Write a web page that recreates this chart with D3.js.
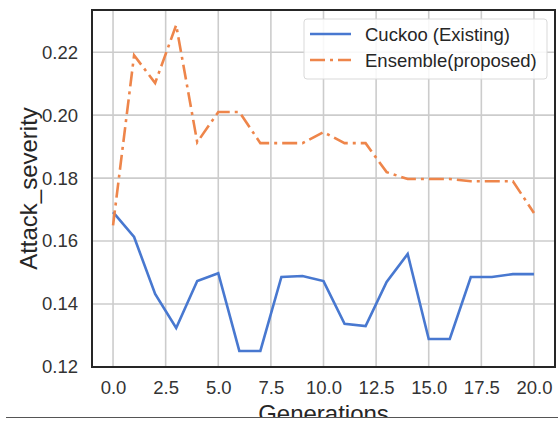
<!DOCTYPE html>
<html>
<head>
    <script src="https://d3js.org/d3.v7.min.js"></script>
    <style>
        body { margin: 0; background: #fff; }
        text { font-family: 'Liberation Sans', Arial, sans-serif; }
    </style>
</head>
<body>
    <svg id="chart" width="560" height="423"></svg>
    <script>
        // values
        var generations = d3.range(0, 21);
        var cuckoo = [0.1692, 0.1613, 0.1432, 0.1324, 0.1473, 0.1498, 0.1251, 0.1251, 0.1486, 0.1489,
            0.1473, 0.1337, 0.1330, 0.1470, 0.1559, 0.1289, 0.1289, 0.1486, 0.1486, 0.1495, 0.1495];
        var ensemble = [0.1650, 0.2190, 0.2102, 0.2286, 0.1914, 0.2010, 0.2010, 0.1911, 0.1911, 0.1911,
            0.1946, 0.1911, 0.1911, 0.1819, 0.1797, 0.1797, 0.1797, 0.1790, 0.1790, 0.1790, 0.1689];
        var xTicks = [0, 2.5, 5, 7.5, 10, 12.5, 15, 17.5, 20];
        var yTicks = [0.12, 0.14, 0.16, 0.18, 0.20, 0.22];
        var seriesNames = ["Cuckoo (Existing)", "Ensemble(proposed)"];

        var svg = d3.select("#chart");
        var plotLeft = 92, plotRight = 555, plotTop = 10, plotBottom = 367;

        var x = d3.scaleLinear().domain([-1, 21]).range([plotLeft, plotRight]);
        var y = d3.scaleLinear().domain([0.12, 0.2334]).range([plotBottom, plotTop]);

        // grid
        svg.append("g")
            .selectAll("line")
            .data(xTicks)
            .enter().append("line")
            .attr("x1", d => x(d)).attr("x2", d => x(d))
            .attr("y1", plotTop).attr("y2", plotBottom)
            .style("stroke", "#cccccc").style("stroke-width", 1.6);
        svg.append("g")
            .selectAll("line")
            .data(yTicks)
            .enter().append("line")
            .attr("x1", plotLeft).attr("x2", plotRight)
            .attr("y1", d => y(d)).attr("y2", d => y(d))
            .style("stroke", "#cccccc").style("stroke-width", 1.6);

        // axes (labels only, no tick marks)
        var xAxis = d3.axisBottom(x).tickValues(xTicks).tickSize(0).tickPadding(14)
            .tickFormat(d3.format(".1f"));
        var yAxis = d3.axisLeft(y).tickValues(yTicks).tickSize(0).tickPadding(14)
            .tickFormat(d3.format(".2f"));

        var gx = svg.append("g").attr("transform", "translate(0," + plotBottom + ")").call(xAxis);
        var gy = svg.append("g").attr("transform", "translate(" + plotLeft + ",0)").call(yAxis);
        gx.select(".domain").remove();
        gy.select(".domain").remove();
        svg.selectAll(".tick text")
            .style("font-size", "18.5px")
            .style("fill", "#333333");

        // lines
        var line = function (vals) {
            return d3.line()
                .x((d, i) => x(generations[i]))
                .y(d => y(d))(vals);
        };

        svg.append("path")
            .attr("d", line(cuckoo))
            .style("fill", "none")
            .style("stroke", "#4878d0")
            .style("stroke-width", 2.6);

        svg.append("path")
            .attr("d", line(ensemble))
            .style("fill", "none")
            .style("stroke", "#ee854a")
            .style("stroke-width", 2.6)
            .style("stroke-dasharray", "15,5,3,5");

        // frame
        svg.append("rect")
            .attr("x", plotLeft).attr("y", plotTop)
            .attr("width", plotRight - plotLeft).attr("height", plotBottom - plotTop)
            .style("fill", "none")
            .style("stroke", "#262626")
            .style("stroke-width", 2);

        // legend
        var legend = svg.append("g");
        legend.append("rect")
            .attr("x", 304).attr("y", 19)
            .attr("width", 243).attr("height", 60)
            .attr("rx", 3)
            .style("fill", "#ffffff").style("fill-opacity", 0.85)
            .style("stroke", "#d9d9d9").style("stroke-width", 1);
        var colors = ["#4878d0", "#ee854a"];
        var dashes = [null, "15,5,3,5"];
        seriesNames.forEach(function (name, i) {
            var ly = 34 + i * 26;
            legend.append("line")
                .attr("x1", 310).attr("x2", 351)
                .attr("y1", ly).attr("y2", ly)
                .style("stroke", colors[i])
                .style("stroke-width", 2.6)
                .style("stroke-dasharray", dashes[i]);
            legend.append("text")
                .attr("x", 365).attr("y", ly + 7)
                .style("font-size", "18.5px")
                .style("fill", "#262626")
                .text(name);
        });

        // axis titles
        svg.append("text")
            .attr("transform", "rotate(-90)")
            .attr("x", -(plotTop + plotBottom) / 2)
            .attr("y", 37)
            .attr("text-anchor", "middle")
            .style("font-size", "24px")
            .style("fill", "#262626")
            .text("Attack_severity");

        svg.append("text")
            .attr("x", (plotLeft + plotRight) / 2)
            .attr("y", 422)
            .attr("text-anchor", "middle")
            .style("font-size", "24px")
            .style("fill", "#262626")
            .text("Generations");

        // the source picture is cut off just under the x title
        svg.append("rect")
            .attr("x", 0).attr("y", 418)
            .attr("width", 560).attr("height", 5)
            .style("fill", "#ffffff");
        svg.append("line")
            .attr("x1", 6).attr("x2", 558)
            .attr("y1", 417.5).attr("y2", 417.5)
            .style("stroke", "#555555")
            .style("stroke-width", 1.2);
    </script>
</body>
</html>
